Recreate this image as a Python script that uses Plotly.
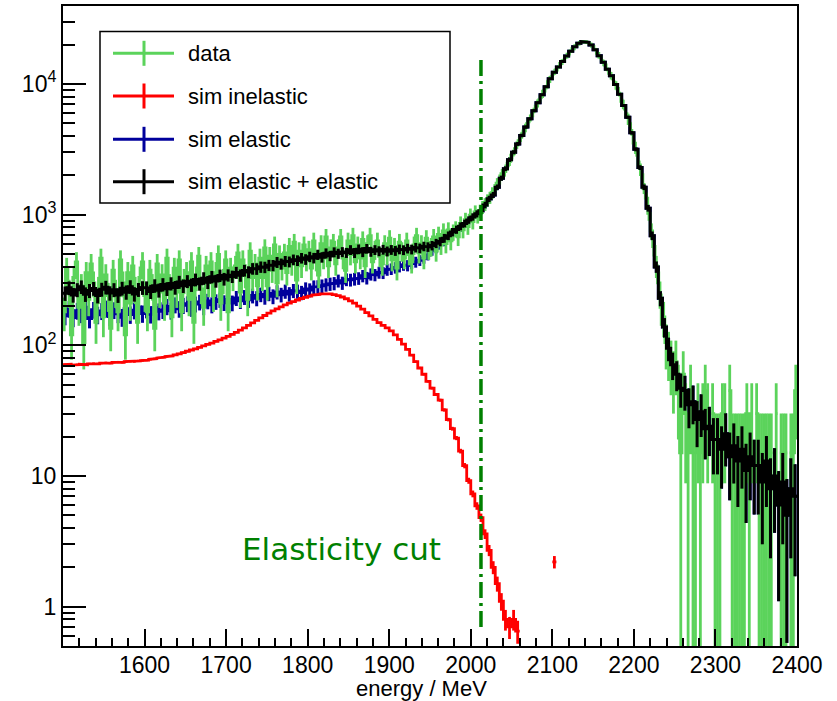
import math
import plotly.graph_objects as go

# ---------------- data ----------------
E_MIN, E_MAX = 1500, 2400

# measured data: event counts per 3 MeV bin starting at 1500 MeV, each event weighted
DATA_BIN_WIDTH = 3
DATA_WEIGHT = 15
data_counts = [
    12, 26, 17, 8, 22, 29, 13, 19, 7, 24,
    15, 28, 20, 10, 18, 31, 11, 23, 16, 9,
    25, 17, 12, 30, 20, 8, 24, 14, 27, 18,
    10, 22, 29, 16, 12, 25, 19, 9, 28, 17,
    23, 14, 31, 19, 11, 26, 17, 30, 12, 21,
    24, 15, 29, 10, 22, 32, 18, 13, 27, 20,
    29, 16, 24, 33, 14, 21, 30, 12, 26, 22,
    27, 34, 17, 30, 23, 15, 35, 22, 28, 19,
    31, 22, 37, 19, 32, 25, 39, 20, 33, 26,
    34, 24, 38, 28, 41, 21, 35, 27, 39, 30,
    36, 26, 42, 30, 23, 40, 31, 45, 27, 37,
    41, 28, 37, 45, 31, 25, 42, 33, 46, 29,
    39, 31, 43, 27, 40, 46, 29, 36, 42, 32,
    28, 40, 33, 44, 30, 38, 26, 41, 35, 31,
    42, 33, 29, 39, 46, 34, 40, 31, 44, 36,
    38, 45, 35, 47, 39, 50, 40, 51, 42, 49,
    52, 45, 57, 51, 61, 54, 66, 59, 70, 65,
    71, 76, 80, 86, 90, 98, 104, 116, 124, 137,
    142, 157, 170, 190, 204, 227, 245, 270, 291, 322,
    352, 380, 418, 450, 495, 533, 586, 630, 693, 748,
    803, 851, 897, 955, 1006, 1071, 1125, 1188, 1238, 1303,
    1343, 1387, 1402, 1398, 1382, 1344, 1293, 1222, 1141, 1071,
    995, 933, 862, 803, 737, 681, 615, 557, 491, 438,
    385, 331, 284, 235, 199, 160, 135, 106, 89, 68,
    50, 38, 27, 20, 13, 11, 7, 6, 5, 4,
    5, 3, 1, 4, 2, 1, 3, 1, 1, 2,
    1, 2, 3, 2, 0, 2, 1, 1, 1, 2,
    2, 0, 3, 1, 1, 1, 1, 1, 1, 2,
    1, 2, 0, 2, 1, 1, 1, 1, 1, 1,
    0, 2, 0, 1, 1, 1, 0, 1, 1, 3,
]

# simulations: values per 5 MeV bin starting at 1500 MeV
SIM_BIN_WIDTH = 5
SIM_WEIGHT = 4.0        # per-entry weight of the elastic simulation
SIM_INEL_WEIGHT = 0.026  # per-entry weight of the inelastic simulation

sim_sum = [
    250, 275, 243, 266, 280, 246, 262, 272, 240, 268, 278, 251, 266, 242, 273, 255, 281, 247, 267, 276,
    275, 258, 286, 264, 292, 271, 297, 277, 305, 285, 309, 290, 318, 296, 326, 304, 334, 311, 342, 322,
    344, 336, 360, 343, 374, 364, 386, 385, 398, 396, 410, 409, 432, 420, 440, 436, 452, 446, 465, 455,
    476, 466, 494, 472, 506, 484, 516, 503, 518, 511, 537, 510, 544, 518, 549, 521, 537, 526, 540, 524,
    538, 529, 543, 536, 551, 542, 560, 553, 572, 566,
    580, 603, 621, 660, 690, 735, 768, 815, 856, 910,
    960, 1014, 1072, 1185, 1320, 1415, 1620, 1900, 2245, 2630,
    3000, 3475, 4030, 4670, 5400, 6240, 7180, 8260, 9510, 10960,
    12300, 13490, 14860, 16330, 17780, 19230, 20420, 21040, 20800, 19820,
    18280, 16410, 14620, 12970, 11530, 9890, 8320, 6840, 5560, 4220,
    3160, 2290, 1620, 1120, 690, 398, 229, 138, 95, 71,
    60, 47, 45, 35, 37, 27, 31, 23, 24, 19,
    19, 16, 21, 14, 17, 13, 16, 11, 14, 12,
    12, 9, 13, 8, 10, 6, 9, 5, 8, 7,
]

sim_elastic = [
    168, 190, 163, 184, 174, 195, 160, 187, 171, 183, 192, 166, 186, 174, 164, 190, 172, 185, 196, 175,
    188, 173, 194, 182, 186, 198, 184, 204, 190, 202, 208, 193, 207, 214, 198, 218, 204, 216, 223, 212,
    224, 211, 230, 219, 234, 223, 240, 229, 245, 235, 249, 237, 256, 244, 259, 247, 262, 259, 253, 270,
    265, 280, 281, 285, 291, 295, 298, 312, 300, 319, 317, 322, 326, 340, 328, 350, 346, 361, 359, 379,
    384, 393, 401, 412, 408, 423, 434, 447, 464, 490,
    530, 552, 590, 622, 668, 701, 755, 792, 850, 895,
    953, 1008, 1067, 1181, 1317, 1413, 1618, 1899, 2244, 2629,
    3000, 3475, 4030, 4670, 5400, 6240, 7180, 8260, 9510, 10960,
    12300, 13490, 14860, 16330, 17780, 19230, 20420, 21040, 20800, 19820,
    18280, 16410, 14620, 12970, 11530, 9890, 8320, 6840, 5560, 4220,
    3160, 2290, 1620, 1120, 690, 398, 229, 138, 95, 71,
    60, 47, 45, 35, 37, 27, 31, 23, 24, 19,
    19, 16, 21, 14, 17, 13, 16, 11, 14, 12,
    12, 9, 13, 8, 10, 6, 9, 5, 8, 7,
]

sim_inelastic = [
    71, 71.5, 70.5, 71, 71.5, 71, 72, 72.5, 72, 73, 73.5, 73, 74, 74.5, 74, 75, 75.5, 75, 76, 76.5,
    77, 78, 79, 80, 81, 82, 83, 84.5, 86, 88, 90, 92, 94, 96.5, 99, 101.5, 104, 107, 110, 113.5,
    117, 121, 125.5, 130.5, 136, 142, 148.5, 155, 162, 169, 176, 183, 190, 197, 204, 210, 216, 222, 228, 233,
    238, 242, 245, 247, 248, 247, 244, 240, 234, 227, 219, 210, 199, 189, 178, 168, 158, 149, 142, 136,
    129, 120, 111, 102, 93, 84, 75, 67, 60, 53,
    47, 42, 38, 32, 27, 23, 19.5, 15.5, 12, 9.2,
    7.3, 5.9, 4.8, 3.6, 2.7, 2.0, 1.5, 1.1, 0.8, 0.7,
    0.8, 0.65, 0, 0, 0, 0, 0, 0, 0, 0,
    2.2, 0, 0, 0, 0, 0, 0, 0, 0, 0,
    0, 0, 0, 0, 0, 0, 0, 0, 0, 0,
    0, 0, 0, 0, 0, 0, 0, 0, 0, 0,
    0, 0, 0, 0, 0, 0, 0, 0, 0, 0,
    0, 0, 0, 0, 0, 0, 0, 0, 0, 0,
    0, 0, 0, 0, 0, 0, 0, 0, 0, 0,
]

cut_energy = 2012.5
cut_y_range = [0.7, 16000]

x_tick_vals = [1600, 1700, 1800, 1900, 2000, 2100, 2200, 2300, 2400]
x_tick_text = ["1600", "1700", "1800", "1900", "2000", "2100", "2200", "2300", "2400"]
y_tick_vals = [1, 10, 100, 1000, 10000]
y_tick_text = ["1", "10", "10<sup>2</sup>", "10<sup>3</sup>", "10<sup>4</sup>"]

legend_labels = ["data", "sim inelastic", "sim elastic", "sim elastic + elastic"]

# ---------------- styling ----------------
C_DATA = "#5BD35B"
C_INEL = "#FF0000"
C_EL = "#00009C"
C_SUM = "#000000"
C_CUT = "#008000"
FONT = "Liberation Sans, Arial, Helvetica, sans-serif"

W, H = 837, 701
ML, MR, MT, MB = 63, 40, 6, 55
PW, PH = W - ML - MR, H - MT - MB


def px(x):
    return (x - ML) / PW


def py(y):
    return (H - MB - y) / PH


def hist_path(start, width, values, errors):
    """Staircase through the bins (broken at empty bins) plus vertical error bars."""
    xs, ys = [], []
    prev_filled = False
    for i, v in enumerate(values):
        lo = start + i * width
        hi = lo + width
        if v <= 0:
            if prev_filled:
                xs.append(None)
                ys.append(None)
            prev_filled = False
            continue
        xs += [lo, hi]
        ys += [v, v]
        prev_filled = True
    xs.append(None)
    ys.append(None)
    for i, (v, e) in enumerate(zip(values, errors)):
        if v <= 0:
            continue
        c = start + i * width + width / 2
        xs += [c, c, None]
        ys += [max(v - e, 1e-3), v + e, None]
    return xs, ys


data_vals = [n * DATA_WEIGHT for n in data_counts]
data_errs = [math.sqrt(n) * DATA_WEIGHT for n in data_counts]
sum_errs = [math.sqrt(SIM_WEIGHT * v) for v in sim_sum]
el_errs = [math.sqrt(SIM_WEIGHT * v) for v in sim_elastic]
inel_errs = [math.sqrt(SIM_INEL_WEIGHT * v) for v in sim_inelastic]

fig = go.Figure()

for vals, errs, width, color, lw in [
    (sim_elastic, el_errs, SIM_BIN_WIDTH, C_EL, 3),
    (data_vals, data_errs, DATA_BIN_WIDTH, C_DATA, 2.8),
    (sim_inelastic, inel_errs, SIM_BIN_WIDTH, C_INEL, 2.8),
    (sim_sum, sum_errs, SIM_BIN_WIDTH, C_SUM, 3),
]:
    xs, ys = hist_path(E_MIN, width, vals, errs)
    fig.add_trace(go.Scatter(x=xs, y=ys, mode="lines",
                             line=dict(color=color, width=lw),
                             hoverinfo="skip", showlegend=False))

# elasticity cut line
fig.add_trace(go.Scatter(x=[cut_energy, cut_energy], y=cut_y_range, mode="lines",
                         line=dict(color=C_CUT, width=3.5, dash="16px,5px,3px,5px"),
                         hoverinfo="skip", showlegend=False))

minor_y = [k * 10 ** d for d in range(-1, 5) for k in range(2, 10)]
minor_y = [v for v in minor_y if 0.5 < v < 40000 and v not in y_tick_vals]

fig.update_layout(
    width=W, height=H,
    margin=dict(l=ML, r=MR, t=MT, b=MB, pad=0, autoexpand=False),
    paper_bgcolor="white", plot_bgcolor="white",
    showlegend=False,
    font=dict(family=FONT, color="black"),
    xaxis=dict(
        range=[E_MIN, E_MAX], showgrid=False, zeroline=False, automargin=False,
        showline=True, mirror=True, linecolor="black", linewidth=2,
        tickmode="array", tickvals=x_tick_vals, ticktext=x_tick_text,
        ticks="inside", ticklen=17, tickwidth=1.5, tickcolor="black",
        ticklabelstandoff=-3,
        tickfont=dict(family=FONT, size=23, color="black"),
        minor=dict(tickmode="array", tickvals=list(range(E_MIN, E_MAX + 1, 20)),
                   ticks="inside", ticklen=8, tickwidth=1.5, tickcolor="black",
                   showgrid=False),
    ),
    yaxis=dict(
        type="log", range=[math.log10(0.5), 4.596], showgrid=False, zeroline=False,
        automargin=False,
        showline=True, mirror=True, linecolor="black", linewidth=2,
        tickmode="array", tickvals=y_tick_vals, ticktext=y_tick_text,
        ticks="inside", ticklen=23, tickwidth=1.5, tickcolor="black",
        tickfont=dict(family=FONT, size=23, color="black"),
        minor=dict(tickmode="array", tickvals=minor_y,
                   ticks="inside", ticklen=12, tickwidth=1.5, tickcolor="black",
                   showgrid=False),
    ),
)

# axis title
fig.add_annotation(text="energy / MeV", xref="paper", yref="paper",
                   x=px(421), y=py(688.5), xanchor="center", yanchor="middle",
                   showarrow=False, borderpad=0,
                   font=dict(family=FONT, size=22, color="black"))

# Elasticity cut label
fig.add_annotation(text="Elasticity cut", xref="paper", yref="paper",
                   x=px(240), y=py(549), xanchor="left", yanchor="middle",
                   showarrow=False,
                   font=dict(family="DejaVu Sans, sans-serif", size=31, color=C_CUT))

# legend (ROOT TLegend style)
fig.add_shape(type="rect", xref="paper", yref="paper",
              x0=px(100), x1=px(450), y0=py(203), y1=py(31.5),
              line=dict(color="black", width=1.5), fillcolor="white", layer="above")
legend_colors = [C_DATA, C_INEL, C_EL, C_SUM]
legend_rows = [53.3, 96, 139.3, 181.7]
for lab, col, yc in zip(legend_labels, legend_colors, legend_rows):
    fig.add_shape(type="line", xref="paper", yref="paper",
                  x0=px(113), x1=px(174), y0=py(yc), y1=py(yc),
                  line=dict(color=col, width=3), layer="above")
    fig.add_shape(type="line", xref="paper", yref="paper",
                  x0=px(144), x1=px(144), y0=py(yc - 12.5), y1=py(yc + 12.5),
                  line=dict(color=col, width=3), layer="above")
    fig.add_annotation(text=lab, xref="paper", yref="paper",
                       x=px(186), y=py(yc), xanchor="left", yanchor="middle",
                       showarrow=False, font=dict(family=FONT, size=22, color="black"))

fig.write_html("out.html",
               config={"displayModeBar": False},
               post_script="document.body.style.margin='0px';document.body.style.padding='0px';")
